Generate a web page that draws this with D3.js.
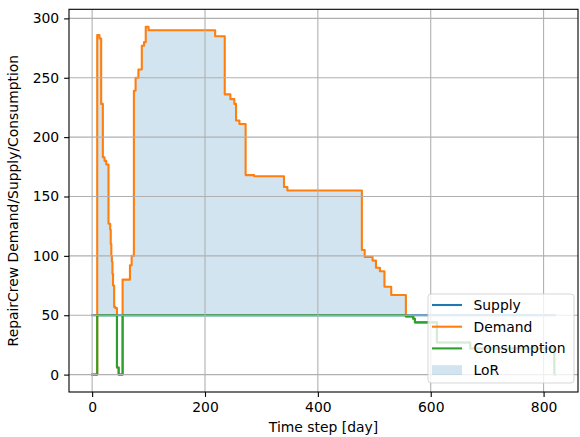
<!DOCTYPE html>
<html>
<head>
<meta charset="utf-8">
<script src="https://cdn.jsdelivr.net/npm/d3@7"></script>
<style>
  html, body { margin: 0; padding: 0; background: #fff; }
  svg { display: block; font-family: "DejaVu Sans", sans-serif; }
</style>
</head>
<body>
<svg id="chart" width="580" height="437"></svg>
<script>
// ---- data (change points, step-after) ----
const demandDays = [0, 9, 13, 16, 19, 22, 25, 29, 32, 33, 34, 35, 36, 37, 39, 41, 44, 47, 54, 67, 70, 74, 77, 82, 88, 92, 95, 100, 218, 235, 245, 252, 255, 261, 272, 287, 340, 346, 478, 483, 497, 503, 510, 518, 530, 556, 569, 572, 611, 670, 819, 820];
const demandVals = [0, 286, 283, 228, 183, 180, 177, 127, 122, 110, 100, 95, 85, 75, 57, 56, 6, 0, 80, 92, 100, 239, 250, 257, 277, 280, 293, 290, 285, 236, 232, 228, 214, 211, 168, 167, 158, 155, 105, 99, 96, 90, 87, 74, 67, 49, 47, 44, 27, 22, 0, 0];

const consumptionDays = [0, 9, 44, 47, 54, 556, 569, 572, 611, 670, 819, 820];
const consumptionVals = [0, 50, 6, 0, 50, 49, 47, 44, 27, 22, 0, 0];

const supplyDays = [0, 820];
const supplyVals = [50, 50];

const xTicks = [0, 200, 400, 600, 800];
const yTicks = [0, 50, 100, 150, 200, 250, 300];

const seriesNames = ["Supply", "Demand", "Consumption", "LoR"];
const colors = { Supply: "#1f77b4", Demand: "#ff7f0e", Consumption: "#2ca02c", LoR: "#1f77b4" };

// ---- layout ----
const svg = d3.select("#chart");
const L = 69, R = 578, T = 9.3, B = 392;
const x = d3.scaleLinear().domain([-41, 861]).range([L, R]);
const y = d3.scaleLinear().domain([-14.65, 307.65]).range([B, T]);

const toPts = (ds, vs) => ds.map((d, i) => [d, vs[i]]);
const demand = toPts(demandDays, demandVals);
const consumption = toPts(consumptionDays, consumptionVals);
const supply = toPts(supplyDays, supplyVals);

// lookup for step series
function stepAt(ds, vs, t) {
  let v = vs[0];
  for (let i = 0; i < ds.length; i++) { if (ds[i] <= t) v = vs[i]; else break; }
  return v;
}
const allDays = Array.from(new Set([...demandDays, ...consumptionDays])).sort((a, b) => a - b);
const fillRows = allDays.map(t => ({ t, lo: stepAt(consumptionDays, consumptionVals, t), hi: stepAt(demandDays, demandVals, t) }));

const clipId = "plotclip";
svg.append("clipPath").attr("id", clipId).append("rect")
  .attr("x", L).attr("y", T).attr("width", R - L).attr("height", B - T);

const plot = svg.append("g").attr("clip-path", `url(#${clipId})`);

// fill (LoR)
const area = d3.area().curve(d3.curveStepAfter)
  .x(d => x(d.t)).y0(d => y(d.lo)).y1(d => y(Math.max(d.hi, d.lo)));
plot.append("path").datum(fillRows).attr("d", area)
  .attr("fill", colors.LoR).attr("fill-opacity", 0.2).attr("stroke", "none");

// grid
const grid = svg.append("g");
xTicks.forEach(t => grid.append("line").attr("x1", x(t)).attr("x2", x(t)).attr("y1", T).attr("y2", B)
  .attr("stroke", "#b0b0b0").attr("stroke-width", 1.1));
yTicks.forEach(t => grid.append("line").attr("x1", L).attr("x2", R).attr("y1", y(t)).attr("y2", y(t))
  .attr("stroke", "#b0b0b0").attr("stroke-width", 1.1));

// lines
const line = d3.line().curve(d3.curveStepAfter).x(d => x(d[0])).y(d => y(d[1]));
[["Supply", supply], ["Demand", demand], ["Consumption", consumption]].forEach(([n, data]) => {
  plot.append("path").datum(data).attr("d", line)
    .attr("fill", "none").attr("stroke", colors[n]).attr("stroke-width", 2.1)
    .attr("stroke-linejoin", "round").attr("stroke-linecap", "square");
});

// axes
const xAxis = d3.axisBottom(x).tickValues(xTicks).tickSize(4.9).tickPadding(4.9).tickFormat(d3.format("d"));
const yAxis = d3.axisLeft(y).tickValues(yTicks).tickSize(4.9).tickPadding(4.9).tickFormat(d3.format("d"));
const gx = svg.append("g").attr("transform", `translate(0,${B})`).call(xAxis);
const gy = svg.append("g").attr("transform", `translate(${L},0)`).call(yAxis);
[gx, gy].forEach(g => {
  g.select(".domain").remove();
  g.selectAll(".tick line").attr("stroke", "#000").attr("stroke-width", 1.1);
  g.selectAll(".tick text").attr("fill", "#000").style("font-size", "13.9px").style("font-family", "DejaVu Sans");
});

// spines
svg.append("rect").attr("x", L).attr("y", T).attr("width", R - L).attr("height", B - T)
  .attr("fill", "none").attr("stroke", "#000").attr("stroke-width", 1.1);

// axis labels
svg.append("text").attr("x", (L + R) / 2).attr("y", 432).attr("text-anchor", "middle")
  .style("font-size", "13.9px").attr("fill", "#000").text("Time step [day]");
svg.append("text").attr("transform", `translate(18,${(T + B) / 2}) rotate(-90)`).attr("text-anchor", "middle")
  .style("font-size", "13.9px").attr("fill", "#000").text("RepairCrew Demand/Supply/Consumption");

// legend
const lg = svg.append("g");
lg.append("rect").attr("x", 428).attr("y", 294).attr("width", 146).attr("height", 89).attr("rx", 3)
  .attr("fill", "#fff").attr("fill-opacity", 0.8).attr("stroke", "#cccccc").attr("stroke-opacity", 0.8).attr("stroke-width", 1);
seriesNames.forEach((n, i) => {
  const cy = 305 + i * 21.7;
  if (n === "LoR") {
    lg.append("rect").attr("x", 432).attr("y", cy - 4.9).attr("width", 30).attr("height", 9.7)
      .attr("fill", colors[n]).attr("fill-opacity", 0.2);
  } else {
    lg.append("line").attr("x1", 432).attr("x2", 462).attr("y1", cy).attr("y2", cy)
      .attr("stroke", colors[n]).attr("stroke-width", 2.1);
  }
  lg.append("text").attr("x", 473.5).attr("y", cy).attr("dy", "0.36em")
    .style("font-size", "13.9px").attr("fill", "#000").text(n);
});
</script>
</body>
</html>
